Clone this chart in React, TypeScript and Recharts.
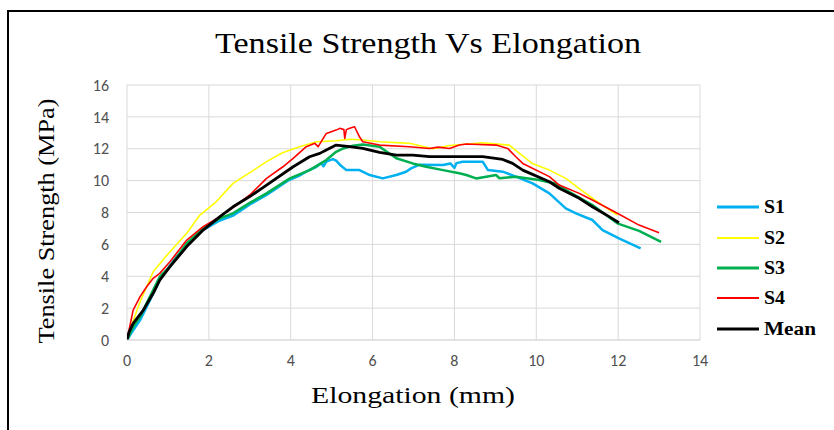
import React from "react";
import { LineChart, Line, XAxis, YAxis, CartesianGrid, Customized } from "recharts";

// ---- Data (elongation mm, tensile strength MPa) ----
const s1Points: [number, number][] = [
  [0, 0], [0.15, 0.6], [0.32, 1.25], [0.56, 2.5], [0.8, 3.76], [0.97, 4.39], [1.2, 5.2], [1.46, 5.96],
  [1.86, 6.9], [2.27, 7.5], [2.59, 7.8], [3.0, 8.5], [3.41, 9.1], [3.93, 10.0], [4.2, 10.3], [4.4, 10.6],
  [4.63, 10.87], [4.75, 11.1], [4.8, 10.9], [4.87, 11.19], [5.03, 11.35], [5.11, 11.25], [5.2, 11.0],
  [5.36, 10.66], [5.68, 10.66], [5.93, 10.35], [6.25, 10.14], [6.58, 10.35], [6.82, 10.56], [6.94, 10.77],
  [7.15, 11.0], [7.72, 10.98], [7.9, 11.08], [8.0, 10.8], [8.05, 11.1], [8.2, 11.19], [8.69, 11.19],
  [8.82, 10.66], [9.18, 10.56], [9.5, 10.25], [9.91, 9.83], [10.32, 9.2], [10.72, 8.26], [10.97, 7.95],
  [11.37, 7.53], [11.62, 6.9], [12.02, 6.38], [12.55, 5.75],
];
const s2Points: [number, number][] = [
  [0, 0], [0.15, 1.2], [0.32, 2.4], [0.64, 4.28], [1.0, 5.4], [1.46, 6.7], [1.78, 7.84], [2.15, 8.6],
  [2.59, 9.83], [3.0, 10.5], [3.41, 11.19], [3.8, 11.75], [4.22, 12.13], [4.63, 12.44], [5.11, 12.5],
  [5.44, 12.6], [5.76, 12.55], [6.17, 12.44], [6.9, 12.34], [7.47, 12.0], [7.88, 12.2], [8.69, 12.38],
  [9.34, 12.23], [9.59, 11.71], [9.9, 11.08], [10.32, 10.66], [10.72, 10.14], [11.05, 9.5], [11.54, 8.58],
  [11.98, 7.84],
];
const s3Points: [number, number][] = [
  [0, 0], [0.15, 0.83], [0.32, 1.46], [0.48, 2.3], [0.64, 3.14], [0.8, 3.97], [1.05, 4.6], [1.46, 6.07],
  [1.86, 7.0], [2.27, 7.63], [2.59, 7.95], [3.0, 8.6], [3.41, 9.2], [3.98, 10.14], [4.46, 10.66],
  [4.87, 11.29], [5.11, 11.81], [5.28, 12.02], [5.52, 12.19], [5.76, 12.27], [6.17, 12.13], [6.58, 11.4],
  [6.98, 11.08], [7.31, 10.87], [7.72, 10.66], [8.12, 10.46], [8.29, 10.35], [8.53, 10.14], [9.02, 10.35],
  [9.1, 10.15], [9.5, 10.25], [10.07, 10.04], [10.48, 9.8], [10.8, 9.3], [11.37, 8.47], [11.98, 7.32],
  [12.51, 6.85], [13.05, 6.15],
];
const s4Points: [number, number][] = [
  [0, 0], [0.05, 0.63], [0.15, 1.88], [0.32, 2.72], [0.48, 3.34], [0.64, 3.87], [0.8, 4.18], [1.05, 4.91],
  [1.46, 6.27], [1.86, 7.11], [2.27, 7.74], [2.68, 8.47], [3.0, 9.1], [3.41, 10.14], [3.81, 10.87],
  [4.06, 11.4], [4.38, 12.13], [4.59, 12.34], [4.67, 12.13], [4.87, 12.96], [5.11, 13.17], [5.2, 13.28],
  [5.3, 13.2], [5.32, 12.65], [5.36, 13.2], [5.44, 13.28], [5.56, 13.38], [5.68, 12.75], [5.76, 12.44],
  [6.17, 12.23], [6.9, 12.13], [7.39, 12.02], [7.6, 12.1], [7.88, 12.02], [8.12, 12.23], [8.29, 12.3],
  [9.02, 12.23], [9.3, 12.02], [9.5, 11.5], [9.67, 11.08], [10.32, 10.25], [10.56, 9.72], [11.05, 9.2],
  [11.37, 8.78], [11.98, 7.95], [12.51, 7.21], [13.0, 6.73],
];
const meanPoints: [number, number][] = [
  [0, 0], [0.05, 0.5], [0.15, 1.04], [0.4, 1.88], [0.64, 2.93], [0.8, 3.76], [1.05, 4.6], [1.46, 5.86],
  [1.86, 6.9], [2.27, 7.74], [2.59, 8.36], [3.0, 9.0], [3.41, 9.72], [4.06, 10.87], [4.46, 11.5],
  [4.71, 11.71], [4.87, 11.92], [5.11, 12.23], [5.44, 12.13], [5.76, 12.02], [6.17, 11.77], [6.58, 11.6],
  [6.98, 11.6], [7.39, 11.5], [8.12, 11.5], [8.69, 11.5], [9.18, 11.33], [9.42, 11.08], [9.67, 10.66],
  [10.32, 9.93], [10.56, 9.52], [11.05, 8.89], [11.37, 8.36], [11.78, 7.74], [12.02, 7.36],
];

const xTicks = [0, 2, 4, 6, 8, 10, 12, 14];
const yTicks = [0, 2, 4, 6, 8, 10, 12, 14, 16];
const seriesNames = ["S1", "S2", "S3", "S4", "Mean"];
const chartTitle = "Tensile Strength Vs Elongation";
const xTitle = "Elongation (mm)";
const yTitle = "Tensile Strength (MPa)";

const toRows = (pts: [number, number][]) => pts.map(([x, y]) => ({ x, y }));

const seriesStyles = [
  { color: "#00B0F0", width: 2.5, legendWidth: 3 },
  { color: "#FFFF00", width: 1.6, legendWidth: 2 },
  { color: "#00B050", width: 2.5, legendWidth: 3 },
  { color: "#FF0000", width: 1.6, legendWidth: 2 },
  { color: "#000000", width: 2.8, legendWidth: 3 },
];
const seriesData = [s1Points, s2Points, s3Points, s4Points, meanPoints].map(toRows);

const serif = "Liberation Serif";
const tickStyle = { fontFamily: "Carlito", fontSize: 16, fill: "#505050" };

const Decorations = () => {
  const legendY = [207, 238, 268, 298, 329];
  const legendTextLen = [21, 21, 21, 21, 52];
  return (
    <g>
      <text x={428} y={53} textAnchor="middle" style={{ fontFamily: serif, fontSize: 29 }} fill="#000"
        textLength={426} lengthAdjust="spacingAndGlyphs">{chartTitle}</text>
      <text x={413} y={403} textAnchor="middle" style={{ fontFamily: serif, fontSize: 23 }} fill="#000"
        textLength={204} lengthAdjust="spacingAndGlyphs">{xTitle}</text>
      <text x={54} y={221} textAnchor="middle" style={{ fontFamily: serif, fontSize: 24 }} fill="#000"
        transform="rotate(-90, 54, 221)" textLength={245} lengthAdjust="spacingAndGlyphs">{yTitle}</text>
      {seriesNames.map((name, i) => (
        <g key={name}>
          <line x1={717} x2={759} y1={legendY[i]} y2={legendY[i]} stroke={seriesStyles[i].color}
            strokeWidth={seriesStyles[i].legendWidth} />
          <text x={764} y={legendY[i] + 6} style={{ fontFamily: serif, fontWeight: "bold", fontSize: 18 }} fill="#000"
            textLength={legendTextLen[i]} lengthAdjust="spacingAndGlyphs">{name}</text>
        </g>
      ))}
    </g>
  );
};

export default function App() {
  return (
    <div style={{ position: "absolute", left: 0, top: 0, width: 834, height: 430, background: "#fff", overflow: "hidden" }}>
      <div style={{ position: "absolute", left: 7, top: 10, width: 840, height: 440, borderLeft: "2px solid #000", borderTop: "2px solid #000" }} />
      <div style={{ position: "absolute", left: 0, top: 0 }}>
        <LineChart width={834} height={430} margin={{ top: 85, right: 134, bottom: 60, left: 87 }}>
          <CartesianGrid stroke="#d9d9d9" strokeWidth={1} />
          <XAxis type="number" dataKey="x" domain={[0, 14]} ticks={xTicks} height={30} interval={0}
            axisLine={{ stroke: "#d9d9d9" }} tickLine={false} tick={tickStyle} tickMargin={9} allowDataOverflow />
          <YAxis type="number" dataKey="y" domain={[0, 16]} ticks={yTicks} width={40} interval={0}
            axisLine={false} tickLine={false} tick={tickStyle} tickMargin={12} allowDataOverflow />
          {seriesData.map((d, i) => (
            <Line key={seriesNames[i]} data={d} dataKey="y" name={seriesNames[i]} type="linear"
              stroke={seriesStyles[i].color} strokeWidth={seriesStyles[i].width} dot={false}
              activeDot={false} isAnimationActive={false} strokeLinejoin="round" />
          ))}
          <Customized component={Decorations} />
        </LineChart>
      </div>
    </div>
  );
}
